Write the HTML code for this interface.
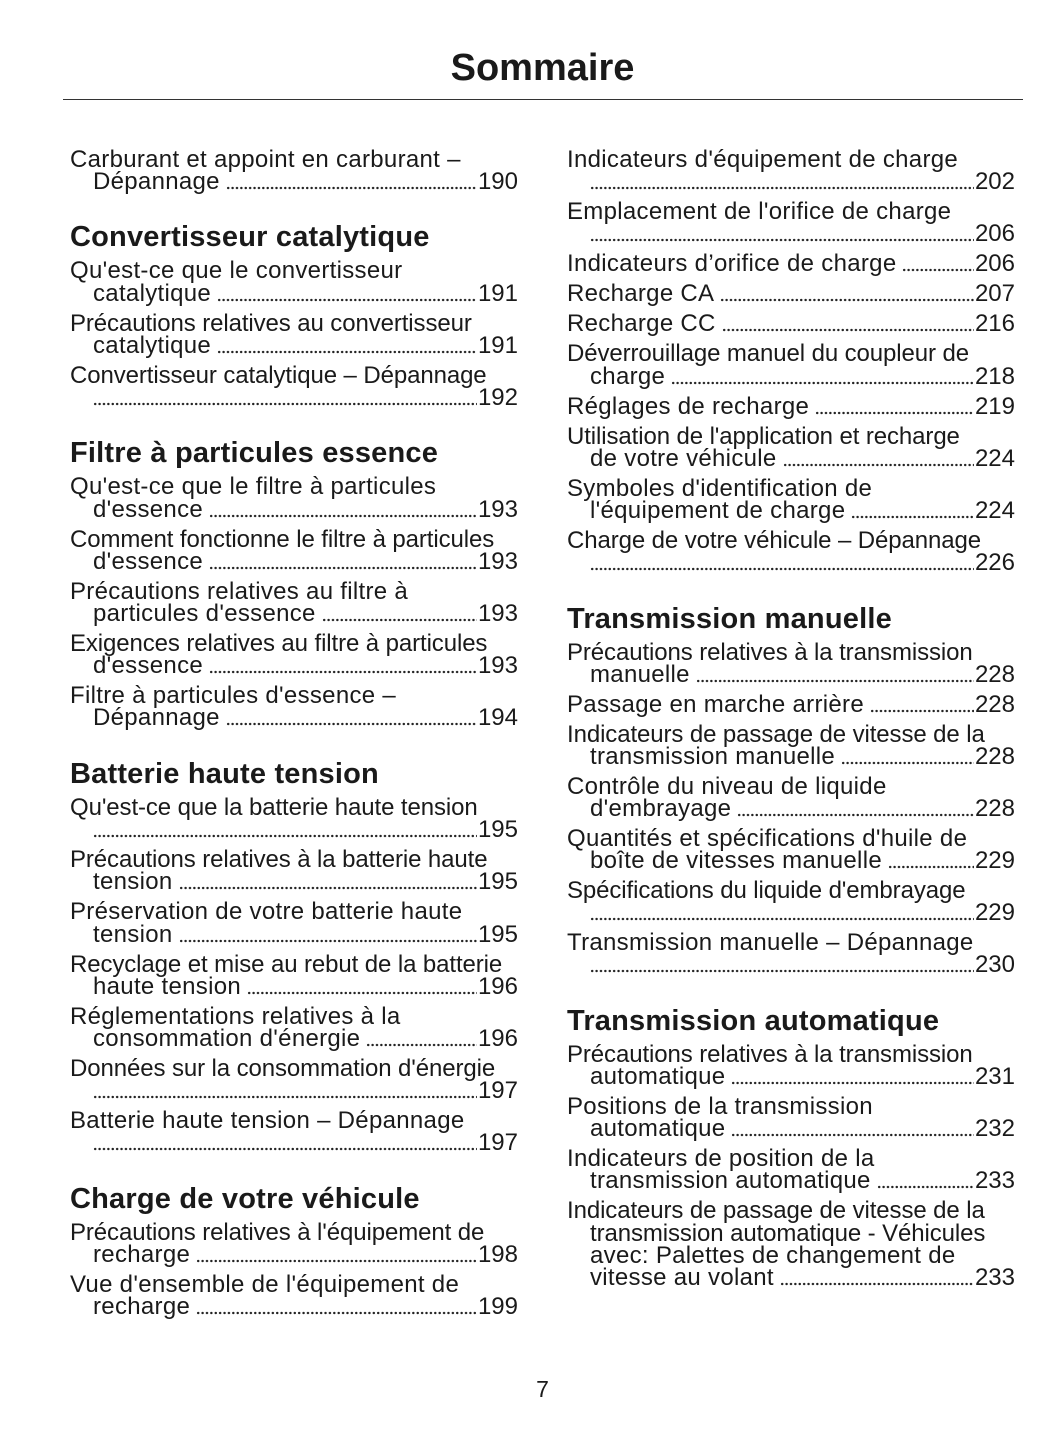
<!DOCTYPE html>
<html><head><meta charset="utf-8">
<style>
html,body{margin:0;padding:0;background:#fff;}
body{width:1055px;height:1448px;position:relative;overflow:hidden;font-family:"Liberation Sans",sans-serif;color:#1a1a1a;}
.t{position:absolute;left:0;width:1085px;top:45px;text-align:center;font-weight:bold;font-size:38px;line-height:46px;}
.rule{position:absolute;left:63px;width:960px;top:99px;height:1px;background:#333;}
.l{position:absolute;height:26px;line-height:26px;font-size:24px;letter-spacing:0.3px;white-space:nowrap;display:flex;}
.l span{flex:none;}
.l i{flex:1;margin:0 1px 0 6px;background-image:radial-gradient(circle,#222 1px,transparent 1.4px);background-size:4.4px 4px;background-repeat:repeat-x;background-position:left bottom 5px;}
.l b{flex:none;font-weight:normal;letter-spacing:0;}
.a{left:70px;width:448px}.ai{left:93px;width:425px}
.c{left:567px;width:448px}.ci{left:590px;width:425px}
.h{position:absolute;font-weight:bold;font-size:29px;letter-spacing:0.2px;line-height:34px;white-space:nowrap;}
.pg{position:absolute;top:1376px;left:0;width:1085px;text-align:center;font-size:23px;}
.n{letter-spacing:-0.1px}
</style></head><body>
<div class="t">Sommaire</div>
<div class="rule"></div>

<div class="l a" style="top:147px"><span>Carburant et appoint en carburant –</span></div>
<div class="l ai" style="top:169px"><span>Dépannage</span><i></i><b>190</b></div>
<div class="h" style="top:220px;left:70px">Convertisseur catalytique</div>
<div class="l a" style="top:258px"><span>Qu'est-ce que le convertisseur</span></div>
<div class="l ai" style="top:281px"><span>catalytique</span><i></i><b>191</b></div>
<div class="l a n" style="top:311px"><span>Précautions relatives au convertisseur</span></div>
<div class="l ai" style="top:333px"><span>catalytique</span><i></i><b>191</b></div>
<div class="l a n" style="top:363px"><span>Convertisseur catalytique – Dépannage</span></div>
<div class="l ai" style="top:385px"><i style="margin-left:0"></i><b>192</b></div>
<div class="h" style="top:436px;left:70px">Filtre à particules essence</div>
<div class="l a" style="top:474px"><span>Qu'est-ce que le filtre à particules</span></div>
<div class="l ai" style="top:497px"><span>d'essence</span><i></i><b>193</b></div>
<div class="l a n" style="top:527px"><span>Comment fonctionne le filtre à particules</span></div>
<div class="l ai" style="top:549px"><span>d'essence</span><i></i><b>193</b></div>
<div class="l a" style="top:579px"><span>Précautions relatives au filtre à</span></div>
<div class="l ai" style="top:601px"><span>particules d'essence</span><i></i><b>193</b></div>
<div class="l a n" style="top:631px"><span>Exigences relatives au filtre à particules</span></div>
<div class="l ai" style="top:653px"><span>d'essence</span><i></i><b>193</b></div>
<div class="l a" style="top:683px"><span>Filtre à particules d'essence –</span></div>
<div class="l ai" style="top:705px"><span>Dépannage</span><i></i><b>194</b></div>
<div class="h" style="top:757px;left:70px">Batterie haute tension</div>
<div class="l a n" style="top:795px"><span>Qu'est-ce que la batterie haute tension</span></div>
<div class="l ai" style="top:817px"><i style="margin-left:0"></i><b>195</b></div>
<div class="l a n" style="top:847px"><span>Précautions relatives à la batterie haute</span></div>
<div class="l ai" style="top:869px"><span>tension</span><i></i><b>195</b></div>
<div class="l a" style="top:899px"><span>Préservation de votre batterie haute</span></div>
<div class="l ai" style="top:922px"><span>tension</span><i></i><b>195</b></div>
<div class="l a n" style="top:952px"><span>Recyclage et mise au rebut de la batterie</span></div>
<div class="l ai" style="top:974px"><span>haute tension</span><i></i><b>196</b></div>
<div class="l a" style="top:1004px"><span>Réglementations relatives à la</span></div>
<div class="l ai" style="top:1026px"><span>consommation d'énergie</span><i></i><b>196</b></div>
<div class="l a n" style="top:1056px"><span>Données sur la consommation d'énergie</span></div>
<div class="l ai" style="top:1078px"><i style="margin-left:0"></i><b>197</b></div>
<div class="l a" style="top:1108px"><span>Batterie haute tension – Dépannage</span></div>
<div class="l ai" style="top:1130px"><i style="margin-left:0"></i><b>197</b></div>
<div class="h" style="top:1182px;left:70px">Charge de votre véhicule</div>
<div class="l a n" style="top:1220px"><span>Précautions relatives à l'équipement de</span></div>
<div class="l ai" style="top:1242px"><span>recharge</span><i></i><b>198</b></div>
<div class="l a" style="top:1272px"><span>Vue d'ensemble de l'équipement de</span></div>
<div class="l ai" style="top:1294px"><span>recharge</span><i></i><b>199</b></div>

<div class="l c" style="top:147px"><span>Indicateurs d'équipement de charge</span></div>
<div class="l ci" style="top:169px"><i style="margin-left:0"></i><b>202</b></div>
<div class="l c" style="top:199px"><span>Emplacement de l'orifice de charge</span></div>
<div class="l ci" style="top:221px"><i style="margin-left:0"></i><b>206</b></div>
<div class="l c" style="top:251px"><span>Indicateurs d’orifice de charge</span><i></i><b>206</b></div>
<div class="l c" style="top:281px"><span>Recharge CA</span><i></i><b>207</b></div>
<div class="l c" style="top:311px"><span>Recharge CC</span><i></i><b>216</b></div>
<div class="l c n" style="top:341px"><span>Déverrouillage manuel du coupleur de</span></div>
<div class="l ci" style="top:364px"><span>charge</span><i></i><b>218</b></div>
<div class="l c" style="top:394px"><span>Réglages de recharge</span><i></i><b>219</b></div>
<div class="l c n" style="top:424px"><span>Utilisation de l'application et recharge</span></div>
<div class="l ci" style="top:446px"><span>de votre véhicule</span><i></i><b>224</b></div>
<div class="l c" style="top:476px"><span>Symboles d'identification de</span></div>
<div class="l ci" style="top:498px"><span>l'équipement de charge</span><i></i><b>224</b></div>
<div class="l c n" style="top:528px"><span>Charge de votre véhicule – Dépannage</span></div>
<div class="l ci" style="top:550px"><i style="margin-left:0"></i><b>226</b></div>
<div class="h" style="top:602px;left:567px">Transmission manuelle</div>
<div class="l c n" style="top:640px"><span>Précautions relatives à la transmission</span></div>
<div class="l ci" style="top:662px"><span>manuelle</span><i></i><b>228</b></div>
<div class="l c" style="top:692px"><span>Passage en marche arrière</span><i></i><b>228</b></div>
<div class="l c n" style="top:722px"><span>Indicateurs de passage de vitesse de la</span></div>
<div class="l ci" style="top:744px"><span>transmission manuelle</span><i></i><b>228</b></div>
<div class="l c" style="top:774px"><span>Contrôle du niveau de liquide</span></div>
<div class="l ci" style="top:796px"><span>d'embrayage</span><i></i><b>228</b></div>
<div class="l c" style="top:826px"><span>Quantités et spécifications d'huile de</span></div>
<div class="l ci" style="top:848px"><span>boîte de vitesses manuelle</span><i></i><b>229</b></div>
<div class="l c n" style="top:878px"><span>Spécifications du liquide d'embrayage</span></div>
<div class="l ci" style="top:900px"><i style="margin-left:0"></i><b>229</b></div>
<div class="l c" style="top:930px"><span>Transmission manuelle – Dépannage</span></div>
<div class="l ci" style="top:952px"><i style="margin-left:0"></i><b>230</b></div>
<div class="h" style="top:1004px;left:567px">Transmission automatique</div>
<div class="l c n" style="top:1042px"><span>Précautions relatives à la transmission</span></div>
<div class="l ci" style="top:1064px"><span>automatique</span><i></i><b>231</b></div>
<div class="l c" style="top:1094px"><span>Positions de la transmission</span></div>
<div class="l ci" style="top:1116px"><span>automatique</span><i></i><b>232</b></div>
<div class="l c" style="top:1146px"><span>Indicateurs de position de la</span></div>
<div class="l ci" style="top:1168px"><span>transmission automatique</span><i></i><b>233</b></div>
<div class="l c n" style="top:1198px"><span>Indicateurs de passage de vitesse de la</span></div>
<div class="l ci n" style="top:1221px"><span>transmission automatique - Véhicules</span></div>
<div class="l ci" style="top:1243px"><span>avec: Palettes de changement de</span></div>
<div class="l ci" style="top:1265px"><span>vitesse au volant</span><i></i><b>233</b></div>

<div class="pg">7</div>
</body></html>
